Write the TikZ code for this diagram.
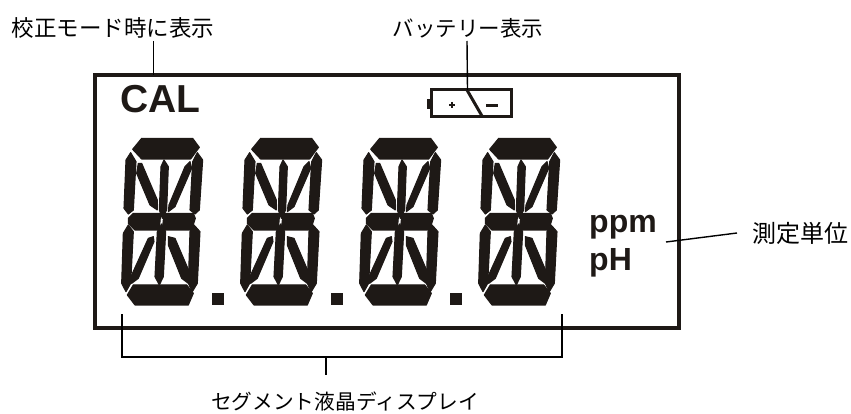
\documentclass[tikz,border=0pt]{standalone}
\usepackage{fontspec}
\setmainfont{Liberation Sans}
\newfontfamily\jpfont{Noto Sans CJK JP}
\definecolor{lcdink}{RGB}{30,25,22}

\tikzset{
    leader/.style={black, line width=1.4pt},
    lbl/.style={inner sep=0pt, black, font=\jpfont\fontsize{#1}{24}\selectfont},
    lcdtext/.style={inner sep=0pt, lcdink, font=\bfseries\fontsize{#1}{#1}\selectfont},
    lcddigit/.pic={
        \begin{scope}[x=0.3333pt, y=-0.3333pt, every path/.style={fill=lcdink, draw=lcdink, line width=1.1pt, line join=round}]
            \path (125,85) -- (278,85) -- (298,112) -- (272,147) -- (125,147) -- (98,118) -- cycle; % top
            \path (92,128) -- (108,155) -- (100,300) -- (85,312) -- (72,295) -- (78,150) -- cycle;
            \path (292,128) -- (308,150) -- (298,300) -- (285,312) -- (270,300) -- (278,155) -- cycle;
            \path (85,325) -- (100,310) -- (182,310) -- (178,360) -- (105,360) -- (85,340) -- cycle; % middle
            \path (192,310) -- (280,310) -- (286,325) -- (275,360) -- (187,360) -- cycle;
            \path (85,345) -- (100,365) -- (92,520) -- (78,545) -- (65,520) -- (70,370) -- cycle;
            \path (282,345) -- (300,365) -- (292,520) -- (277,545) -- (265,520) -- (270,365) -- cycle;
            \path (100,525) -- (260,525) -- (280,550) -- (265,585) -- (105,585) -- (82,555) -- cycle; % bottom
            \path (192,150) -- (205,170) -- (200,300) -- (187,325) -- (178,300) -- (183,170) -- cycle;
            \path (185,342) -- (197,365) -- (190,500) -- (178,525) -- (165,500) -- (172,365) -- cycle;
            \path (115,160) -- (125,160) -- (172,270) -- (172,300) -- (150,285) -- (110,190) -- cycle;
            \path (270,155) -- (275,175) -- (225,290) -- (205,305) -- (207,285) -- (255,170) -- cycle;
            \path (160,380) -- (162,395) -- (115,505) -- (95,520) -- (95,495) -- (145,385) -- cycle;
            \path (205,380) -- (225,385) -- (270,490) -- (265,520) -- (245,505) -- (205,405) -- cycle;
        \end{scope}
    },
}

\begin{document}
\begin{tikzpicture}[x=1pt, y=-1pt]

    \useasboundingbox (0,0) rectangle (851,414);

    \node[draw=lcdink, line width=4pt, minimum width=584pt, minimum height=253pt, inner sep=0pt] (lcd) at (386.5,201.5) {};

    \node[lcdtext=39, anchor=base west] (cal) at (120,113) {CAL};
    \node[lcdtext=32, anchor=base west] (ppm) at (589,233) {ppm};
    \node[lcdtext=32, anchor=base west] (ph) at (589,270) {pH};

    \foreach \x in {0, 1, 2, 3}{
            \pic at (100+119*\x,110) {lcddigit};
        }
    \foreach \x in {0, 1, 2}{
            \fill[lcdink] (212+119*\x,293) rectangle ++(11.5,11.5);
        }

    % battery
    \draw[lcdink, line width=3pt] (431,89.5) rectangle (511,117);
    \fill[lcdink] (427,99) rectangle (431,109);
    \draw[lcdink, line width=3pt] (467,90) -- (482,116);
    \draw[lcdink, line width=1.8pt] (449,105) -- (455,105) (452,102) -- (452,108);
    \draw[lcdink, line width=3pt] (486,106) -- (498,106);

    \node[lbl=22.5] (calmode) at (113,28) {校正モード時に表示};
    \node[lbl=21.5] (battery) at (468,28) {バッテリー表示};
    \node[lbl=24] (unit) at (800,233) {測定単位};
    \node[lbl=20.7] (segment) at (345,402) {セグメント液晶ディスプレイ};

    \coordinate (c1) at (153.6,41);
    \coordinate (c2) at (153.6,75);
    \coordinate (b1) at (467,41);
    \coordinate (b2) at (467.5,90);
    \coordinate (u1) at (737,233);
    \coordinate (u2) at (666,242);
    \coordinate (s1) at (122,314);
    \coordinate (s2) at (122,357);
    \coordinate (s3) at (562,357);
    \coordinate (s4) at (562,314);
    \coordinate (s5) at (326,357);
    \coordinate (s6) at (326,375);

    \draw[leader] (c1) -- (c2);
    \draw[leader] (b1) -- (b2);
    \draw[leader] (u1) -- (u2);
    \draw[leader] (s1) -- (s2) -- (s3) -- (s4);
    \draw[leader] (s5) -- (s6);

\end{tikzpicture}
\end{document}
